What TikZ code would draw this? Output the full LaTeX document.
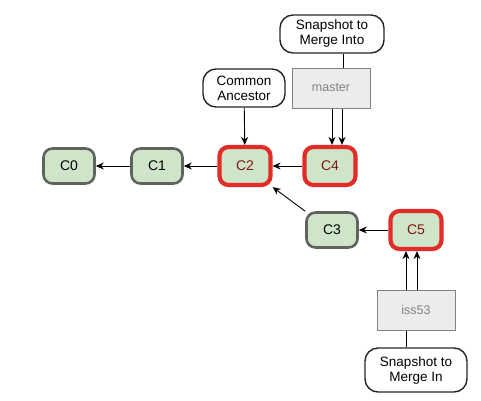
\documentclass[tikz,border=0pt]{standalone}
\usepackage{fontspec}
\setmainfont{Liberation Sans}
\usepackage{tikz}
\usetikzlibrary{arrows.meta,calc}
\definecolor{commitgreen}{RGB}{207,229,202}
\definecolor{commitgray}{RGB}{95,100,95}
\definecolor{headred}{RGB}{226,44,40}
\definecolor{headtext}{RGB}{130,20,20}
\definecolor{branchfill}{RGB}{236,236,236}
\definecolor{branchline}{RGB}{130,130,130}
\tikzset{
  commit/.style={draw=commitgray, line width=2.6pt, fill=commitgreen,
    rounded corners=9pt, minimum width=51pt, minimum height=35pt,
    font=\fontsize{14}{15}\selectfont},
  hotcommit/.style={commit, draw=headred, line width=4.2pt,
    minimum width=51pt, minimum height=38pt, text=headtext},
  branch/.style={draw=branchline, line width=1pt, fill=branchfill,
    minimum width=78pt, minimum height=40pt, text=branchline,
    font=\fontsize{12.5}{14}\selectfont},
  note/.style={draw=black!85, line width=1.4pt, fill=white,
    rounded corners=13pt, minimum width=82pt, minimum height=38pt,
    align=center, inner sep=2pt, font=\fontsize{13.5}{15}\selectfont},
  arr/.style={-{Stealth[length=8pt,width=7pt]}, line width=0.9pt},
}
\begin{document}
\begin{tikzpicture}[x=1pt, y=-1pt]
  \useasboundingbox (0,0) rectangle (481,400);

  % commits
  \node[commit] (c0) at (69,166) {C0};
  \node[commit] (c1) at (157,166) {C1};
  \node[hotcommit] (c2) at (245,166) {C2};
  \node[hotcommit] (c4) at (330,166) {C4};
  \node[commit] (c3) at (332,230) {C3};
  \node[hotcommit] (c5) at (416,230) {C5};

  % branches
  \node[branch] (master) at (331,88) {master};
  \node[branch] (iss53) at (416,310) {iss53};

  % notes
  \node[note, minimum width=104pt] (into) at (332,34) {Snapshot to\\Merge Into};
  \node[note] (ancestor) at (244,88) {Common\\Ancestor};
  \node[note, minimum width=102pt, minimum height=44pt] (in) at (416,370) {Snapshot to\\Merge In};

  % history
  \draw[arr] (c1) -- (c0);
  \draw[arr] (c2) -- (c1);
  \draw[arr] (c4) -- (c2);
  \draw[arr] (c5) -- (c3);
  \draw[arr] (c3.north west) -- (c2.south east);

  % pointers
  \draw[arr] (ancestor) -- (c2);
  \draw[arr] ([xshift=1pt]master.south) -- ([xshift=2pt]c4.north);
  \draw[arr] ([xshift=11pt]master.south) -- ([xshift=12pt]c4.north);
  \draw[arr] ([xshift=-10pt]iss53.north) -- ([xshift=-10pt]c5.south);
  \draw[arr] ([xshift=1pt]iss53.north) -- ([xshift=1pt]c5.south);
  \draw[line width=0.9pt] ([xshift=11pt]into.south) -- ([xshift=12pt]master.north);
  \draw[line width=0.9pt] ([xshift=-10pt]iss53.south) -- ([xshift=-10pt]in.north);

\end{tikzpicture}
\end{document}
